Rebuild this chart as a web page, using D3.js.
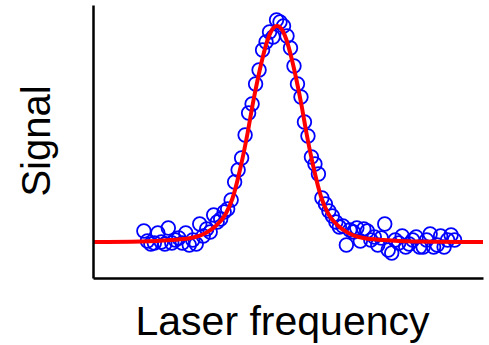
<!DOCTYPE html>
<html>
<head>
<meta charset="utf-8">
<script src="https://cdn.jsdelivr.net/npm/d3@7"></script>
<style>
  html, body { margin: 0; padding: 0; background: #fff; }
  svg { display: block; }
</style>
</head>
<body>
<div id="chart"></div>
<script>
// measured points: detuning (arb. units) and signal (arb. units)
const freq = [
  -133.5, -130, -126.5, -123, -119.5, -116, -112.5, -109, -105.5, -102,
  -98.5, -95, -91.5, -88, -84.5, -81, -77.5, -74, -70.5, -67,
  -63.5, -60, -56.5, -53, -49.5, -46, -42.5, -39, -35.5, -32,
  -28.5, -25, -21.5, -18, -14.5, -11, -7.5, -4, -0.5, 3,
  6.5, 10, 13.5, 17, 20.5, 24, 27.5, 31, 34.5, 38,
  41.5, 45, 48.5, 52, 55.5, 59, 62.5, 66, 69.5, 73,
  76.5, 80, 83.5, 87, 90.5, 94, 97.5, 101, 104.5, 108,
  111.5, 115, 118.5, 122, 125.5, 129, 132.5, 136, 139.5, 143,
  146.5, 150, 153.5, 157, 160.5, 164, 167.5, 171, 174.5, 178
];
const signal = [
  11, 1, -2, -1, 9, 0, -2, 14, -1, 2,
  4, -1, 9, -3, 2, -2, 18, 6, 13, 10,
  27, 20, 23, 30, 33, 42, 60, 72, 84, 107,
  129, 138, 158, 172, 192, 200, 210, 205, 222, 220,
  216, 206, 194, 176, 158, 145, 120, 106, 85, 78,
  68, 44, 38, 31, 26, 20, 15, 16, -3, 12,
  10, 14, 1, 13, 11, 2, 5, -3, 4, 18,
  -8, -11, 2, -1, 6, -5, -2, 2, 5, -5,
  -5, 2, 8, -5, -3, 6, -5, 2, 7, 2
];

// fitted curve
const fitFreq = [
  -184.5, -136.5, -106.5, -86.5, -71.5, -61.5, -51.5, -44.5, -36.5, -29.5,
  -24.5, -19.5, -14.5, -9.5, -4.5, 0, 4.5, 9.5, 14.5, 19.5,
  24.5, 29.5, 36.5, 44.5, 51.5, 61.5, 71.5, 86.5, 106.5, 136.5, 206.5
];
const fitSignal = [
  0, 0.5, 2, 4, 9, 16, 28, 44, 75, 109,
  137, 162, 184, 202, 213, 216, 213, 202, 184, 162,
  137, 109, 75, 44, 28, 16, 9, 4, 2, 0.5, 0
];

const xLabel = 'Laser frequency';
const yLabel = 'Signal';

const width = 489, height = 345;
const margin = { top: 5, right: 6, bottom: 67, left: 93 };

const svg = d3.select('#chart')
  .append('svg')
  .attr('width', width)
  .attr('height', height);

const x = d3.scaleLinear()
  .domain([-184.5, 206.5])
  .range([margin.left, width - margin.right]);

const y = d3.scaleLinear()
  .domain([-36, 237])
  .range([height - margin.bottom, margin.top]);

const points = freq.map((f, i) => ({ f: f, s: signal[i] }));
const fit = fitFreq.map((f, i) => ({ f: f, s: fitSignal[i] }));

// data points
svg.append('g')
  .selectAll('circle')
  .data(points)
  .join('circle')
  .attr('cx', d => x(d.f))
  .attr('cy', d => y(d.s))
  .attr('r', 6.8)
  .attr('fill', 'none')
  .attr('stroke', '#0000ff')
  .attr('stroke-width', 1.8);

// fit line on top
const line = d3.line()
  .x(d => x(d.f))
  .y(d => y(d.s))
  .curve(d3.curveMonotoneX);

svg.append('path')
  .datum(fit)
  .attr('d', line)
  .attr('fill', 'none')
  .attr('stroke', '#ff0000')
  .attr('stroke-width', 4);

// axes without ticks
const xAxis = d3.axisBottom(x).tickValues([]).tickSizeOuter(0);
const yAxis = d3.axisLeft(y).tickValues([]).tickSizeOuter(0);

svg.append('g')
  .attr('transform', `translate(0,${height - margin.bottom})`)
  .call(xAxis)
  .call(g => g.select('.domain').attr('stroke', '#000').attr('stroke-width', 2.5));

svg.append('g')
  .attr('transform', `translate(${margin.left},0)`)
  .call(yAxis)
  .call(g => g.select('.domain').attr('stroke', '#000').attr('stroke-width', 2.5));

svg.append('text')
  .attr('x', 282.5)
  .attr('y', 335)
  .attr('text-anchor', 'middle')
  .attr('font-family', 'Liberation Sans, Arial, sans-serif')
  .attr('font-size', 41)
  .attr('fill', '#000')
  .text(xLabel);

svg.append('text')
  .attr('transform', 'translate(50,141) rotate(-90)')
  .attr('text-anchor', 'middle')
  .attr('font-family', 'Liberation Sans, Arial, sans-serif')
  .attr('font-size', 40)
  .attr('fill', '#000')
  .text(yLabel);
</script>
</body>
</html>
